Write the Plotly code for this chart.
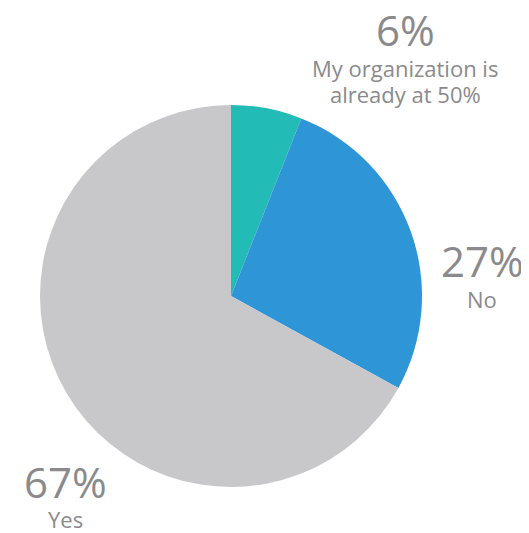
import plotly.graph_objects as go

labels = ["My organization is already at 50%", "No", "Yes"]
values = [6, 27, 67]
colors = ["#22BBB5", "#2E96D6", "#C8C8CA"]
pct_text = ["6%", "27%", "67%"]
name_lines = [["My organization is", "already at 50%"], ["No"], ["Yes"]]

OFF = 8  # browser body margin
PW, PH = 529, 533
W, H = PW - OFF, PH - OFF
cx, cy, r = 231 - OFF, 296 - OFF, 191

fig = go.Figure(go.Pie(
    labels=labels, values=values, sort=False, direction="clockwise", rotation=0,
    marker=dict(colors=colors, line=dict(width=0)),
    textinfo="none", hoverinfo="label+percent", showlegend=False,
    domain=dict(x=[(cx - r) / W, (cx + r) / W], y=[(H - cy - r) / H, (H - cy + r) / H]),
))

txt_col = "#8A8A8C"
font = "Open Sans"
# page-pixel positions (from top-left) of label centres
pos_pct = [(405, 30), (482, 260), (65, 481)]
pos_name = [[(405, 68), (405, 94)], [(482, 299)], [(65, 519)]]
ann = []

def add(text, px, py, size):
    ann.append(dict(x=(px - OFF) / W, y=1 - (py - OFF) / H, xref="paper", yref="paper",
                    text=text, showarrow=False,
                    font=dict(size=size, color=txt_col, family=font),
                    xanchor="center", yanchor="middle"))

for i in range(3):
    add(pct_text[i], *pos_pct[i], 42)
    for line, (nx, ny) in zip(name_lines[i], pos_name[i]):
        add(line, nx, ny, 22)

fig.update_layout(width=W, height=H, margin=dict(l=0, r=0, t=0, b=0),
                  paper_bgcolor="white", plot_bgcolor="white", annotations=ann)
fig.write_html("out.html")
